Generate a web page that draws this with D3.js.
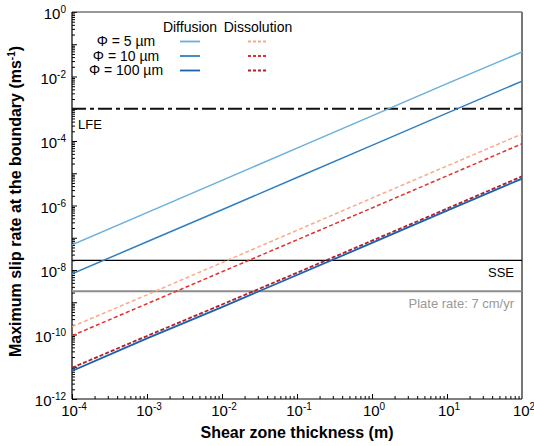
<!DOCTYPE html>
<html>
<head>
<meta charset="utf-8">
<script src="https://cdn.jsdelivr.net/npm/d3@7"></script>
<style>
  body { margin: 0; background: #fff; }
  svg { font-family: "Liberation Sans", Arial, sans-serif; }
</style>
</head>
<body>
<div id="chart"></div>
<script>
// shear zone thickness (m), one value per decade
const thickness = [1e-4, 1e-3, 1e-2, 1e-1, 1e0, 1e1, 1e2];

// maximum slip rate (m/s)
const diff5   = [6e-8, 6e-7, 6e-6, 6e-5, 6e-4, 6e-3, 5.8e-2];
const diff10  = [7.6e-9, 7.5e-8, 7.4e-7, 7.4e-6, 7.3e-5, 7.3e-4, 7.2e-3];
const diff100 = [7.4e-12, 7.6e-11, 7.1e-10, 7e-9, 6.9e-8, 6.9e-7, 6.8e-6];
const diss5   = [1.75e-10, 1.7e-9, 1.7e-8, 1.7e-7, 1.7e-6, 1.68e-5, 1.65e-4];
const diss10  = [9.2e-11, 9e-10, 8.8e-9, 8.6e-8, 8.4e-7, 8.3e-6, 8.2e-5];
const diss100 = [9.3e-12, 9e-11, 8.5e-10, 8.2e-9, 8.1e-8, 8e-7, 8e-6];

const lfeRate = 1e-3;
const sseRate = 2e-8;
const plateRate = 2.2e-9;

const legendLabels = ["Φ = 5 µm", "Φ = 10 µm", "Φ = 100 µm"];
const xTickExps = [-4, -3, -2, -1, 0, 1, 2];
const yTickExps = [-12, -10, -8, -6, -4, -2, 0];

const series = [
  { values: diff5,   color: "#6aafdc", dash: null, width: 1.5 },
  { values: diff10,  color: "#2f7fc1", dash: null, width: 1.5 },
  { values: diss5,   color: "#fca98a", dash: "4,2.5", width: 1.5 },
  { values: diss10,  color: "#e3302b", dash: "4,2.5", width: 1.5 },
  { values: diss100, color: "#b01f2c", dash: "4,2", width: 1.8 },
  { values: diff100, color: "#1c61ad", dash: null, width: 1.8 }
];

const W = 534, H = 446;
const margin = { top: 12, right: 12, bottom: 47, left: 72 };
const width = W - margin.left - margin.right;
const height = H - margin.top - margin.bottom;

const svg = d3.select("#chart").append("svg")
  .attr("width", W)
  .attr("height", H);

const chart = svg.append("g")
  .attr("transform", `translate(${margin.left},${margin.top})`);

const x = d3.scaleLog().domain([1e-4, 1e2]).range([0, width]);
const y = d3.scaleLog().domain([1e-12, 1]).range([height, 0]);

chart.append("defs").append("clipPath").attr("id", "clip")
  .append("rect").attr("width", width).attr("height", height);

// minor ticks
const minorX = [];
for (let e = -4; e < 2; e++) for (let k = 2; k <= 9; k++) minorX.push(k * Math.pow(10, e));
const minorY = [];
for (let e = -12; e < 0; e++) for (let k = 2; k <= 9; k++) minorY.push(k * Math.pow(10, e));

function styleAxis(g) {
  g.select(".domain").remove();
  g.selectAll(".tick line").attr("stroke", "#000").attr("stroke-width", 1);
  g.selectAll(".tick text").remove();
}

chart.append("g").attr("transform", `translate(0,${height})`)
  .call(d3.axisBottom(x).tickValues(minorX).tickSize(-3)).call(styleAxis);
chart.append("g")
  .call(d3.axisLeft(y).tickValues(minorY).tickSize(-3)).call(styleAxis);
chart.append("g").attr("transform", `translate(0,${height})`)
  .call(d3.axisBottom(x).tickValues(thickness).tickSize(-5)).call(styleAxis);
chart.append("g")
  .call(d3.axisLeft(y).tickValues(d3.range(-12, 1).map(e => Math.pow(10, e))).tickSize(-5)).call(styleAxis);

// tick labels with superscripts
const xLab = chart.append("g").selectAll("text").data(xTickExps).join("text")
  .attr("x", d => x(Math.pow(10, d)) + 2)
  .attr("y", height + 17)
  .attr("text-anchor", "middle")
  .attr("font-size", 15);
xLab.append("tspan").text("10");
xLab.append("tspan").attr("dy", -6).attr("font-size", 10).text(d => d);

const yLab = chart.append("g").selectAll("text").data(yTickExps).join("text")
  .attr("x", -6)
  .attr("y", d => y(Math.pow(10, d)) + 7)
  .attr("text-anchor", "end")
  .attr("font-size", 15);
yLab.append("tspan").text("10");
yLab.append("tspan").attr("dy", -6).attr("font-size", 10).text(d => d);

// frame
chart.append("line").attr("x1", 0).attr("x2", width).attr("y1", 0).attr("y2", 0)
  .attr("stroke", "#333").attr("stroke-width", 1);
chart.append("line").attr("x1", width).attr("x2", width).attr("y1", 0).attr("y2", height)
  .attr("stroke", "#777").attr("stroke-width", 2);
chart.append("line").attr("x1", 0).attr("x2", 0).attr("y1", 0).attr("y2", height)
  .attr("stroke", "#000").attr("stroke-width", 1.2);
chart.append("line").attr("x1", 0).attr("x2", width).attr("y1", height).attr("y2", height)
  .attr("stroke", "#000").attr("stroke-width", 1.2);

// reference rates
const plot = chart.append("g").attr("clip-path", "url(#clip)");
plot.append("line").attr("x1", 0).attr("x2", width)
  .attr("y1", y(lfeRate)).attr("y2", y(lfeRate))
  .attr("stroke", "#111").attr("stroke-width", 2).attr("stroke-dasharray", "14,4,4,4");
plot.append("line").attr("x1", 0).attr("x2", width)
  .attr("y1", y(sseRate)).attr("y2", y(sseRate))
  .attr("stroke", "#000").attr("stroke-width", 1.3);
plot.append("line").attr("x1", 0).attr("x2", width)
  .attr("y1", y(plateRate)).attr("y2", y(plateRate))
  .attr("stroke", "#8c8c8c").attr("stroke-width", 2);

const line = d3.line()
  .x((d, i) => x(thickness[i]))
  .y(d => y(d));

plot.selectAll("path.series").data(series).join("path")
  .attr("class", "series")
  .attr("d", d => line(d.values))
  .attr("fill", "none")
  .attr("stroke", d => d.color)
  .attr("stroke-width", d => d.width)
  .attr("stroke-dasharray", d => d.dash);

chart.append("text").attr("x", 6).attr("y", y(lfeRate) + 20)
  .attr("font-size", 13).text("LFE");
chart.append("text").attr("x", width - 8).attr("y", y(sseRate) + 17)
  .attr("text-anchor", "end").attr("font-size", 13).text("SSE");
chart.append("text").attr("x", width - 8).attr("y", y(plateRate) + 17)
  .attr("text-anchor", "end").attr("font-size", 13).attr("fill", "#999")
  .text("Plate rate: 7 cm/yr");

// legend
const legend = svg.append("g");
legend.append("text").attr("x", 190).attr("y", 32).attr("text-anchor", "middle")
  .attr("font-size", 14).text("Diffusion");
legend.append("text").attr("x", 258).attr("y", 32).attr("text-anchor", "middle")
  .attr("font-size", 14).text("Dissolution");
const rows = legend.selectAll("g.row").data(legendLabels).join("g")
  .attr("class", "row")
  .attr("transform", (d, i) => `translate(0,${46 + i * 14.5})`);
rows.append("text").attr("x", 126).attr("text-anchor", "middle")
  .attr("font-size", 14).text(d => d);
const diffSeries = [series[0], series[1], series[5]];
const dissSeries = [series[2], series[3], series[4]];
rows.append("line").attr("x1", 180).attr("x2", 200).attr("y1", -4.5).attr("y2", -4.5)
  .attr("stroke", (d, i) => diffSeries[i].color).attr("stroke-width", 1.8);
rows.append("line").attr("x1", 248).attr("x2", 268).attr("y1", -4.5).attr("y2", -4.5)
  .attr("stroke", (d, i) => dissSeries[i].color).attr("stroke-width", 1.8)
  .attr("stroke-dasharray", "3,2");

// axis titles
svg.append("text").attr("x", margin.left + width / 2).attr("y", 438)
  .attr("text-anchor", "middle").attr("font-size", 16).attr("font-weight", "bold")
  .text("Shear zone thickness (m)");
const yt = svg.append("text")
  .attr("transform", `translate(21,${margin.top + height / 2 - 4}) rotate(-90)`)
  .attr("text-anchor", "middle").attr("font-size", 16).attr("font-weight", "bold");
yt.append("tspan").text("Maximum slip rate at the boundary (ms");
yt.append("tspan").attr("dy", -6).attr("font-size", 10).text("-1");
yt.append("tspan").attr("dy", 6).text(")");
</script>
</body>
</html>
